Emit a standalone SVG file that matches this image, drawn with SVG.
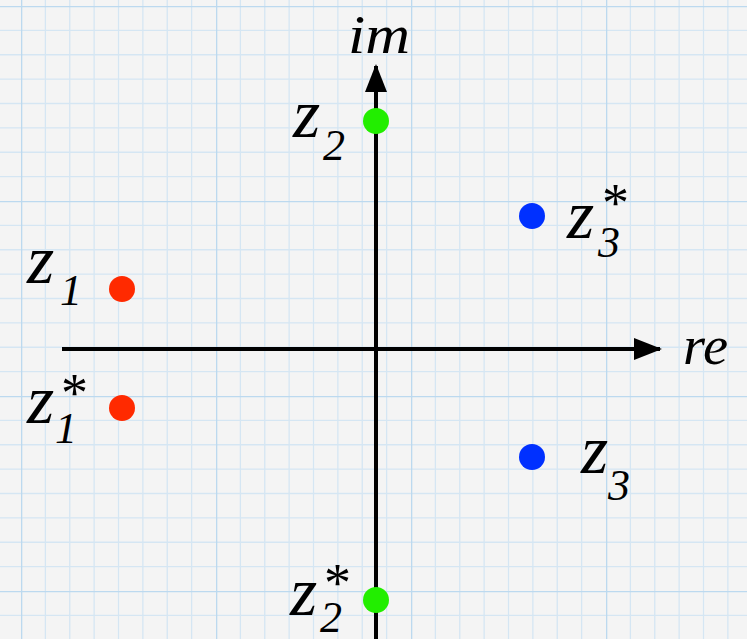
<svg xmlns="http://www.w3.org/2000/svg" width="747" height="639" viewBox="0 0 747 639">
<style>
.lab{font-family:"Liberation Serif",serif;font-style:italic;fill:#000}
.z{font-size:70px}
.sub{font-size:44px}
.ast{font-family:"Liberation Serif",serif;font-size:54px;fill:#000}
.ax{stroke:#000;stroke-width:4;fill:none}
</style>
<defs>
<pattern id="grid" patternUnits="userSpaceOnUse" x="21" y="6" width="195" height="195">
<g stroke="#d5e6f3" stroke-width="1.3">
<path d="M24.375 0V195M48.75 0V195M73.125 0V195M97.5 0V195M121.875 0V195M146.25 0V195M170.625 0V195"/>
<path d="M0 24.375H195M0 48.75H195M0 73.125H195M0 97.5H195M0 121.875H195M0 146.25H195M0 170.625H195"/>
</g>
<g stroke="#bcd9ef" stroke-width="2.6">
<path d="M0 0V195M0 0H195"/>
</g>
</pattern>
<marker id="ah" markerWidth="28" markerHeight="22" refX="26" refY="11" orient="auto" markerUnits="userSpaceOnUse">
<path d="M0 0L28 11L0 22Z" fill="#000"/>
</marker>
</defs>
<rect width="747" height="639" fill="#f4f4f4"/>
<rect width="747" height="639" fill="url(#grid)"/>
<g id="axes">
<line class="ax" x1="62" y1="349" x2="660" y2="349" marker-end="url(#ah)"/>
<line class="ax" x1="376" y1="639" x2="376" y2="66" marker-end="url(#ah)"/>
<text class="lab" x="348" y="53" font-size="54" textLength="62" lengthAdjust="spacingAndGlyphs">im</text>
<text class="lab" x="683" y="364" font-size="54" textLength="45" lengthAdjust="spacingAndGlyphs">re</text>
</g>
<g id="z1">
<circle cx="122" cy="289" r="13" fill="#ff2a00"/>
<text class="lab z" x="27" y="283">z</text>
<text class="lab sub" x="60" y="305">1</text>
</g>
<g id="z1conj">
<circle cx="122" cy="408" r="13" fill="#ff2a00"/>
<text class="lab z" x="27" y="423">z</text>
<text class="lab sub" x="55" y="443">1</text>
<text class="ast" x="61" y="411">*</text>
</g>
<g id="z2">
<circle cx="376" cy="121" r="13" fill="#22ee00"/>
<text class="lab z" x="293" y="137">z</text>
<text class="lab sub" x="323" y="160">2</text>
</g>
<g id="z2conj">
<circle cx="376" cy="600" r="13" fill="#22ee00"/>
<text class="lab z" x="290" y="615">z</text>
<text class="lab sub" x="320" y="632">2</text>
<text class="ast" x="324" y="601">*</text>
</g>
<g id="z3">
<circle cx="532" cy="457" r="13" fill="#0030ff"/>
<text class="lab z" x="581" y="473">z</text>
<text class="lab sub" x="608" y="500">3</text>
</g>
<g id="z3conj">
<circle cx="532" cy="216" r="13" fill="#0030ff"/>
<text class="lab z" x="567" y="238">z</text>
<text class="lab sub" x="598" y="257">3</text>
<text class="ast" x="602" y="221">*</text>
</g>
</svg>
